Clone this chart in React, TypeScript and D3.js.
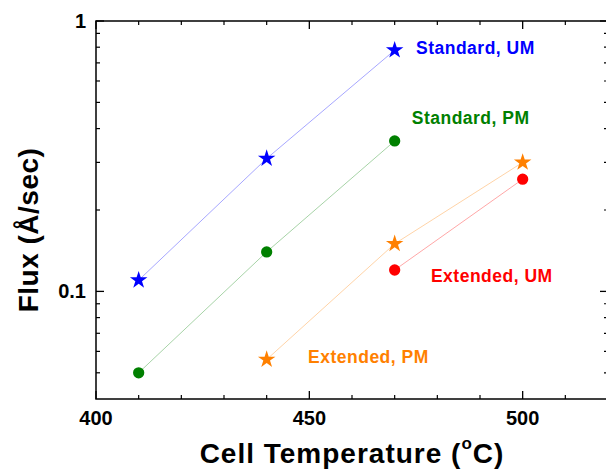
import * as d3 from "d3";

const temps410 = [410, 440, 470];
const stdUM = [0.11, 0.31, 0.78];
const stdPM = [0.05, 0.14, 0.36];
const extTemps = [440, 470, 500];
const extPM = [0.056, 0.15, 0.3];
const extUMTemps = [470, 500];
const extUM = [0.12, 0.26];

const xTicksMajor = [400, 450, 500];
const yTicksMajor = [0.1, 1];

interface Series {
  name: string;
  temps: number[];
  values: number[];
  color: string;
  symbol: "star" | "circle";
  // label anchor in data units (temperature, flux)
  labelAt: [number, number];
}

const SERIES: Series[] = [
  { name: "Standard, UM", temps: temps410, values: stdUM, color: "#0000ff", symbol: "star", labelAt: [475, 0.755] },
  { name: "Standard, PM", temps: temps410, values: stdPM, color: "#008000", symbol: "circle", labelAt: [474, 0.417] },
  { name: "Extended, PM", temps: extTemps, values: extPM, color: "#ff8000", symbol: "star", labelAt: [449.7, 0.0542] },
  { name: "Extended, UM", temps: extUMTemps, values: extUM, color: "#ff0000", symbol: "circle", labelAt: [478.5, 0.108] },
];

const W = 606;
const H = 474;
const margin = { top: 21, right: -2, bottom: 75, left: 96 };
const FONT = "'Liberation Sans', Arial, sans-serif";

export default function App() {
  const x = d3.scaleLinear().domain([400, 520]).range([margin.left, W - margin.right]);
  const y = d3.scaleLog().domain([0.04, 1]).range([H - margin.bottom, margin.top]);
  const [x0, x1] = x.range();
  const [y0, y1] = y.range();

  const xMinor = d3.range(410, 520, 10).filter((t) => !xTicksMajor.includes(t));
  const yMinor = [...d3.range(0.05, 0.1, 0.01), ...d3.range(0.2, 0.95, 0.1)];

  const star = d3.symbol().type(d3.symbolStar).size(95);
  const circle = d3.symbol().type(d3.symbolCircle).size(100);

  const line = (s: Series) =>
    d3.line<number>().x((_, i) => x(s.temps[i])).y((v) => y(v))(s.values) ?? "";

  return (
    <svg width={W} height={H} style={{ position: "absolute", left: 0, top: 0 }} fontFamily={FONT}>
      {/* frame */}
      <rect x={x0} y={y1} width={x1 - x0} height={y0 - y1} fill="none" stroke="#000" strokeWidth={1.5} />

      {/* x ticks, bottom and top */}
      {xTicksMajor.map((t) => (
        <g key={"xm" + t}>
          <line x1={x(t)} x2={x(t)} y1={y0} y2={y0 - 8} stroke="#000" strokeWidth={1.3} />
          <line x1={x(t)} x2={x(t)} y1={y1} y2={y1 + 8} stroke="#000" strokeWidth={1.3} />
          <text x={x(t)} y={y0 + 26} textAnchor="middle" fontSize={20} fontWeight="bold">
            {t}
          </text>
        </g>
      ))}
      {xMinor.map((t) => (
        <g key={"xn" + t}>
          <line x1={x(t)} x2={x(t)} y1={y0} y2={y0 - 4} stroke="#000" strokeWidth={1.2} />
          <line x1={x(t)} x2={x(t)} y1={y1} y2={y1 + 4} stroke="#000" strokeWidth={1.2} />
        </g>
      ))}

      {/* y ticks, left and right */}
      {yTicksMajor.map((t) => (
        <g key={"ym" + t}>
          <line x1={x0} x2={x0 + 8} y1={y(t)} y2={y(t)} stroke="#000" strokeWidth={1.3} />
          <line x1={x1} x2={x1 - 8} y1={y(t)} y2={y(t)} stroke="#000" strokeWidth={1.3} />
          <text x={x0 - 10} y={y(t)} dy="0.35em" textAnchor="end" fontSize={20} fontWeight="bold">
            {t}
          </text>
        </g>
      ))}
      {yMinor.map((t) => (
        <g key={"yn" + t}>
          <line x1={x0} x2={x0 + 4} y1={y(t)} y2={y(t)} stroke="#000" strokeWidth={1.2} />
          <line x1={x1} x2={x1 - 4} y1={y(t)} y2={y(t)} stroke="#000" strokeWidth={1.2} />
        </g>
      ))}

      {/* series */}
      {SERIES.map((s) => (
        <g key={s.name}>
          <path d={line(s)} fill="none" stroke={s.color} strokeOpacity={0.35} strokeWidth={1} />
          {s.values.map((v, i) => (
            <path
              key={i}
              transform={`translate(${x(s.temps[i])},${y(v)})`}
              d={(s.symbol === "star" ? star : circle)() ?? ""}
              fill={s.color}
            />
          ))}
          <text
            x={x(s.labelAt[0])}
            y={y(s.labelAt[1])}
            fill={s.color}
            fontSize={17.5}
            fontWeight="bold"
            letterSpacing={0.5}
          >
            {s.name}
          </text>
        </g>
      ))}

      {/* axis titles */}
      <text
        transform={`translate(38,230) rotate(-90)`}
        textAnchor="middle"
        fontSize={28}
        fontWeight="bold"
        letterSpacing={0.5}
      >
        Flux (Å/sec)
      </text>
      <text x={(x0 + x1) / 2} y={463} textAnchor="middle" fontSize={28} fontWeight="bold" letterSpacing={1}>
        Cell Temperature (
        <tspan fontSize={17} dy={-14}>
          o
        </tspan>
        <tspan dy={14}>C)</tspan>
      </text>
    </svg>
  );
}
